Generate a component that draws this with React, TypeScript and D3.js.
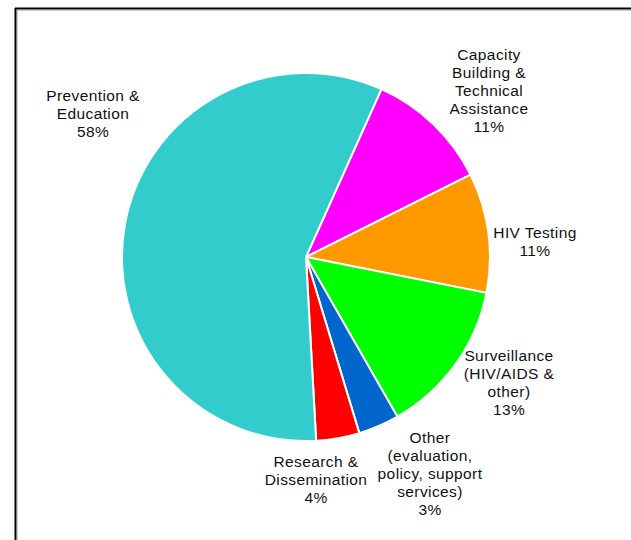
import React from "react";
import * as d3 from "d3";

const categories = [
  "Capacity Building & Technical Assistance",
  "HIV Testing",
  "Surveillance (HIV/AIDS & other)",
  "Other (evaluation, policy, support services)",
  "Research & Dissemination",
  "Prevention & Education",
];
// slice sizes (labels show rounded values)
const values = [10.9, 10.5, 13.6, 3.6, 3.8, 57.6];
const colors = ["#FF00FF", "#FF9900", "#00FF00", "#0066CC", "#FF0000", "#33CCCC"];
const labelLines = [
  ["Capacity", "Building &", "Technical", "Assistance", "11%"],
  ["HIV Testing", "11%"],
  ["Surveillance", "(HIV/AIDS &", "other)", "13%"],
  ["Other", "(evaluation,", "policy, support", "services)", "3%"],
  ["Research &", "Dissemination", "4%"],
  ["Prevention &", "Education", "58%"],
];
// label anchor (center x, first line center y)
const labelPos: [number, number][] = [
  [489, 55],
  [535, 233],
  [509, 356],
  [430, 438],
  [316, 462],
  [93, 96],
];

const W = 631;
const H = 540;
const cx = 306;
const cy = 257;
const R = 184;

export default function App() {
  const startDeg = 24.2;
  const pie = d3
    .pie<number>()
    .sort(null)
    .value((d) => d)
    .startAngle((startDeg * Math.PI) / 180)
    .endAngle(((startDeg + 360) * Math.PI) / 180);
  const arcs = pie(values);
  const arcGen = d3.arc<d3.PieArcDatum<number>>().innerRadius(0).outerRadius(R);
  const lineH = 18;
  return (
    <svg
      width={W}
      height={H}
      style={{ position: "absolute", left: 0, top: 0, background: "#fff" }}
      fontFamily="Liberation Sans, Arial, sans-serif"
    >
      <rect x={0} y={0} width={W} height={H} fill="#fff" />
      <line x1={15.5} y1={8} x2={15.5} y2={H} stroke="#000" strokeWidth={2} />
      <line x1={15} y1={8.5} x2={W} y2={8.5} stroke="#000" strokeWidth={2} />
      <line x1={17.5} y1={10} x2={17.5} y2={H} stroke="#ccc" strokeWidth={1} />
      <line x1={17} y1={10.5} x2={W} y2={10.5} stroke="#ccc" strokeWidth={1} />
      <g transform={`translate(${cx},${cy})`}>
        {arcs.map((a, i) => (
          <path key={categories[i]} d={arcGen(a) || ""} fill={colors[i]} stroke="#fff" strokeWidth={2} strokeLinejoin="round" />
        ))}
      </g>
      {labelLines.map((lines, i) => (
        <text
          key={categories[i]}
          x={labelPos[i][0]}
          y={labelPos[i][1]}
          textAnchor="middle"
          fontSize={15.5}
          letterSpacing={0.4}
          fill="#111"
        >
          {lines.map((l, j) => (
            <tspan key={j} x={labelPos[i][0]} y={labelPos[i][1] + j * lineH} dy="0.35em">
              {l}
            </tspan>
          ))}
        </text>
      ))}
    </svg>
  );
}
